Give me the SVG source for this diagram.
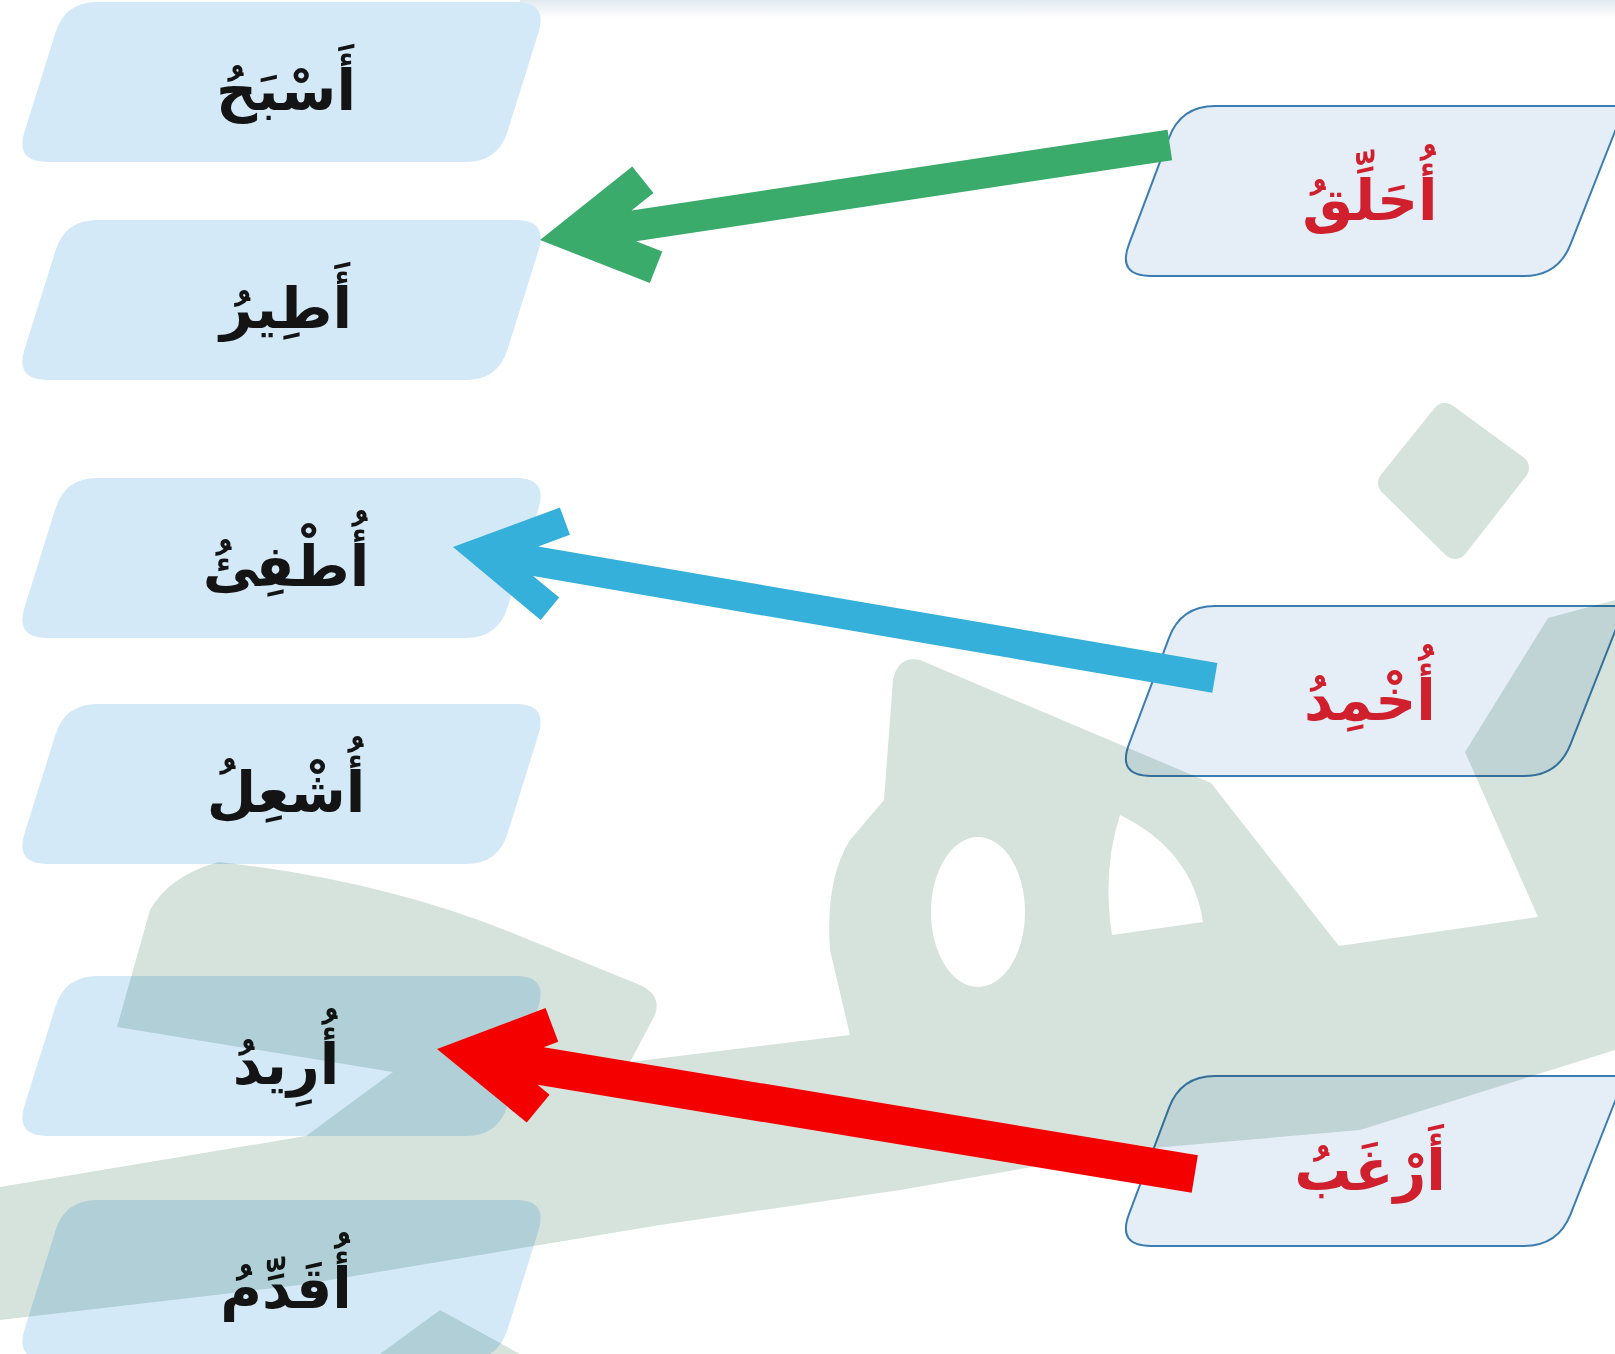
<svg xmlns="http://www.w3.org/2000/svg" xmlns:xlink="http://www.w3.org/1999/xlink" width="1615" height="1354" viewBox="0 0 1615 1354">
<style>
.ln{fill:#d3e9f8;}
.rn{fill:#e5eef7;stroke:#3c7db1;stroke-width:2;}
.lt{font-family:"DejaVu Sans",sans-serif;font-weight:bold;font-size:57px;fill:#141414;text-anchor:middle;direction:rtl;}
.rt{font-family:"DejaVu Sans",sans-serif;font-weight:bold;font-size:57px;fill:#d0202e;text-anchor:middle;direction:rtl;}
.wm{fill:#d6e3dd;stroke:#d6e3dd;}
</style>
<defs>
<path id="lnode" d="M82,0 L501,0 Q533,0 523.5,30.5 L492.5,129.5 Q483,160 451,160 L32,160 Q0,160 9.5,129.5 L40.5,30.5 Q50,0 82,0 Z"/>
<path id="rnode" d="M98,0 L508,0 L453.5,138.4 Q441,170 407,170 L34,170 Q0,170 12,138.2 L52,31.8 Q64,0 98,0 Z"/>
<linearGradient id="topg" x1="0" y1="0" x2="0" y2="1">
<stop offset="0" stop-color="#e2eaf0"/>
<stop offset="1" stop-color="#ffffff"/>
</linearGradient>
</defs>
<rect x="0" y="0" width="1615" height="1354" fill="#ffffff"/>
<rect x="520" y="0" width="1095" height="18" fill="url(#topg)"/>

<g id="node-asbah"><use href="#lnode" class="ln" x="15" y="2"/><text class="lt" x="286" y="110">أَسْبَحُ</text></g>
<g id="node-atir"><use href="#lnode" class="ln" x="15" y="220"/><text class="lt" x="286" y="328">أَطِيرُ</text></g>
<g id="node-atfi"><use href="#lnode" class="ln" x="15" y="478"/><text class="lt" x="286" y="586">أُطْفِئُ</text></g>
<g id="node-ushil"><use href="#lnode" class="ln" x="15" y="704"/><text class="lt" x="286" y="812">أُشْعِلُ</text></g>
<g id="node-urid"><use href="#lnode" class="ln" x="15" y="976"/><text class="lt" x="286" y="1084">أُرِيدُ</text></g>
<g id="node-uqaddim"><use href="#lnode" class="ln" x="15" y="1200"/><text class="lt" x="286" y="1308">أُقَدِّمُ</text></g>

<g id="node-uhalliq"><use href="#rnode" class="rn" x="1117" y="106"/><text class="rt" x="1370" y="220">أُحَلِّقُ</text></g>
<g id="node-ukhmid"><use href="#rnode" class="rn" x="1117" y="606"/><text class="rt" x="1370" y="720">أُخْمِدُ</text></g>
<g id="node-arghab"><use href="#rnode" class="rn" x="1117" y="1076"/><text class="rt" x="1370" y="1190">أَرْغَبُ</text></g>

<g id="watermark" style="mix-blend-mode:multiply">
<path class="wm" stroke-width="0" fill-rule="evenodd" d="M150,910 Q170,875 219,862 Q380,880 510,932 L640,985 Q662,995 655,1015 L630,1062 L850,1035 L830,950 Q825,880 850,840 L884,800 L893,680 Q898,655 920,660 L1211,783 L1339,946 L1538,917 L1465,752 L1548,618 L1615,600 L1615,1050 L1360,1130 L1130,1150 L900,1190 L660,1225 L300,1285 L0,1320 L0,1187 L306,1136 L393,1072 L117,1027 Z M931,912 a47,75 0 1,0 94,0 a47,75 0 1,0 -94,0 Z M1120,815 Q1192,850 1203,922 L1112,935 Q1102,870 1120,815 Z"/>
<polygon class="wm" stroke-width="26" stroke-linejoin="round" points="1445,416 1516,468 1455,546 1391,483"/>
<polygon class="wm" stroke-width="0" points="380,1354 440,1310 520,1354"/>
</g>

<g id="connectors">
<path fill="#3aab6b" transform="translate(540,240) rotate(-8.58)" d="M0,0 L102.2,-59 L119.2,-29.6 L94.9,-15.5 L637,-15.5 L637,15.5 L94.9,15.5 L119.2,29.6 L102.2,59 Z"/>
<path fill="#34b0da" transform="translate(453,547) rotate(9.75)" d="M0,0 L98.7,-57 L113.2,-31.9 L83.9,-15 L773,-15 L773,15 L83.9,15 L113.2,31.9 L98.7,57 Z"/>
<path fill="#f50000" transform="translate(437,1049) rotate(9.36)" d="M0,0 L100.5,-58 L118.5,-26.8 L105,-19 L768,-19 L768,19 L105,19 L118.5,26.8 L100.5,58 Z"/>
</g>
</svg>
